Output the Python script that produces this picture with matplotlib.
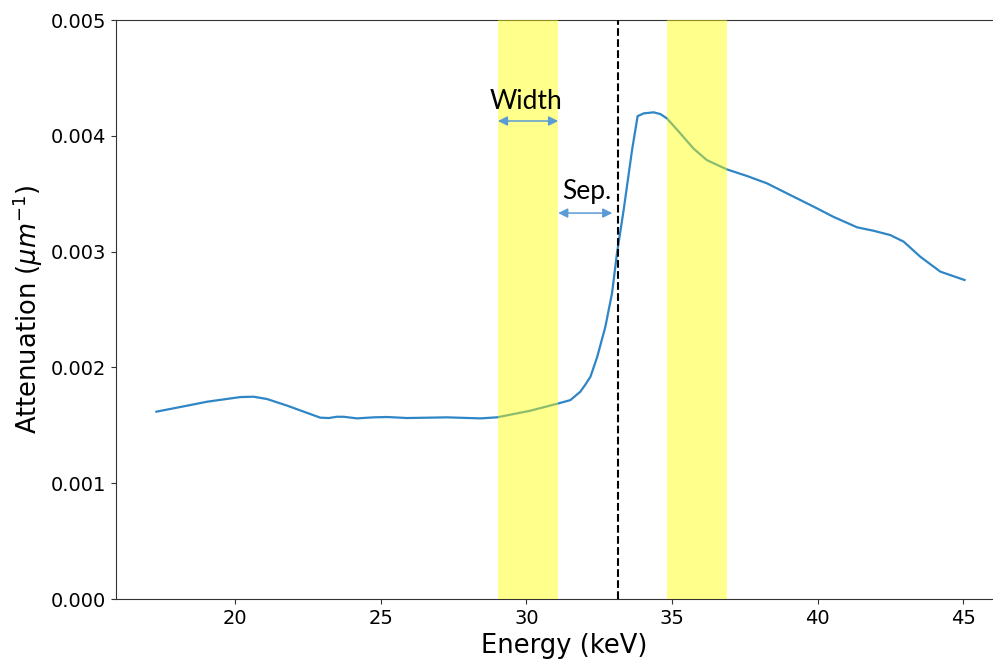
#!/usr/bin/env python3
"""Attenuation curve around the K-edge with the two energy windows marked."""

import matplotlib.pyplot as plt

energy_kev = [
    17.29, 18.45, 19.03, 20.17, 20.63, 21.09, 21.78, 22.35, 22.92, 23.21,
    23.49, 23.72, 24.18, 24.75, 25.21, 25.90, 27.27, 28.42, 28.99, 30.13,
    31.11, 31.51, 31.85, 32.02, 32.20, 32.43, 32.71, 32.94, 33.11, 33.34,
    33.63, 33.82, 34.03, 34.37, 34.60, 34.83, 35.29, 35.74, 36.20, 36.89,
    37.58, 38.26, 38.95, 39.87, 40.55, 41.36, 41.93, 42.50, 42.96, 43.53,
    44.22, 45.05,
]
attenuation = [
    1.618, 1.675, 1.704, 1.744, 1.747, 1.727, 1.670, 1.618, 1.566, 1.563,
    1.574, 1.574, 1.560, 1.569, 1.572, 1.563, 1.569, 1.560, 1.569, 1.626,
    1.690, 1.718, 1.790, 1.850, 1.920, 2.090, 2.350, 2.640, 2.985, 3.360,
    3.880, 4.170, 4.194, 4.203, 4.188, 4.150, 4.020, 3.890, 3.790, 3.710,
    3.653, 3.590, 3.503, 3.388, 3.300, 3.210, 3.180, 3.143, 3.086, 2.956,
    2.827, 2.755,
]
attenuation = [a * 1e-3 for a in attenuation]

windows = [(29.02, 31.09), (34.83, 36.89)]
edge_kev = 33.15
y_ticks = [0.000, 0.001, 0.002, 0.003, 0.004, 0.005]
x_ticks = [20, 25, 30, 35, 40, 45]

ARROW_COLOR = "#5b9bd5"
NOTE_FONT = ["Lato", "DejaVu Sans"]


def double_arrow(ax, x0, x1, y):
    ax.annotate(
        "", xy=(x1, y), xytext=(x0, y),
        arrowprops=dict(arrowstyle="<|-|>", color=ARROW_COLOR, lw=1.1,
                        mutation_scale=14, shrinkA=0, shrinkB=0),
        zorder=5,
    )


fig = plt.figure(figsize=(9.93, 6.59), dpi=100)
ax = fig.add_axes([0.1168, 0.0910, 0.9029, 0.8786])

ax.plot(energy_kev, attenuation, color="#2f86c6", linewidth=1.6, zorder=2)
for lo, hi in windows:
    ax.axvspan(lo, hi, color="#ffff00", alpha=0.45, linewidth=0, zorder=3)
ax.axvline(edge_kev, color="black", linestyle="--", linewidth=1.5, zorder=4)

double_arrow(ax, windows[0][0], windows[0][1], 0.004128)
double_arrow(ax, windows[0][1], 32.95, 0.003333)
ax.text(30.0, 0.0043, "Width", ha="center", va="center", fontsize=19,
        family=NOTE_FONT, zorder=6)
ax.text(32.09, 0.003515, "Sep.", ha="center", va="center", fontsize=19,
        family=NOTE_FONT, zorder=6)

ax.set_xlim(15.9, 46.7)
ax.set_ylim(0, 0.005)
ax.set_xticks(x_ticks)
ax.set_yticks(y_ticks)
ax.set_yticklabels([f"{v:.3f}" for v in y_ticks])
ax.tick_params(labelsize=14, color="#333333")
ax.set_xlabel("Energy (keV)", fontsize=18.5)
ax.set_ylabel(r"Attenuation ($\mu m^{-1}$)", fontsize=18.5)
for spine in ax.spines.values():
    spine.set_color("#333333")

fig.savefig("out.png", dpi=100)
